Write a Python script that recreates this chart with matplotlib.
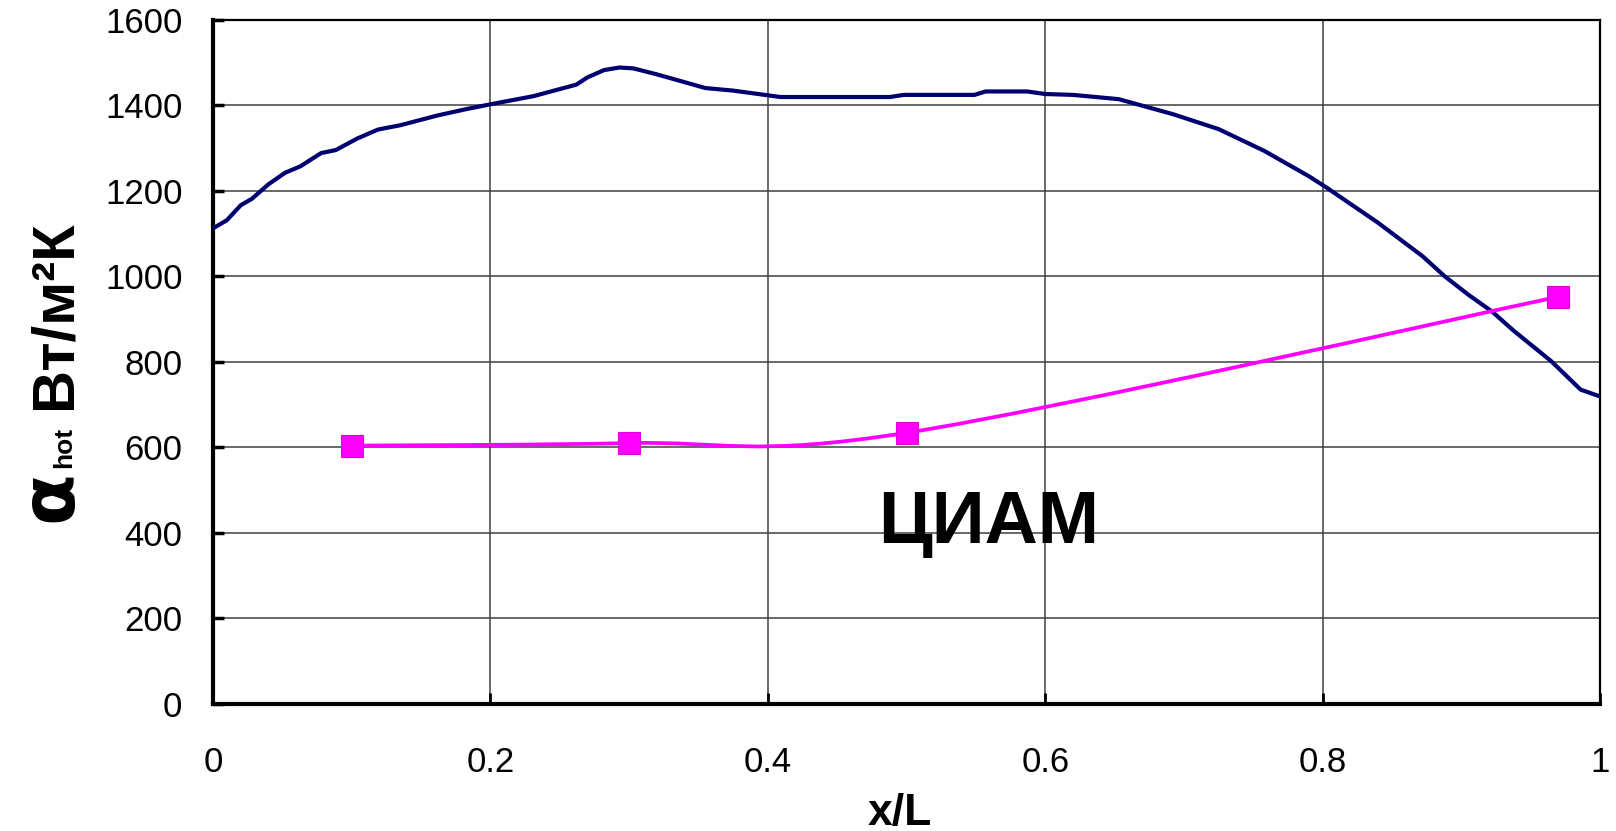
import numpy as np
import matplotlib
matplotlib.use('Agg')
import matplotlib.pyplot as plt
from matplotlib.path import Path
from matplotlib.patches import PathPatch

W, H = 1616, 831

# blue curve: alpha_hot along x/L
x_blue = [0.0, 0.01, 0.02, 0.028, 0.04, 0.052, 0.063, 0.078, 0.0885, 0.104,
          0.119, 0.135, 0.162, 0.183, 0.2, 0.231, 0.262, 0.27, 0.282, 0.293,
          0.303, 0.32, 0.355, 0.375, 0.4, 0.409, 0.488, 0.498, 0.549, 0.557,
          0.587, 0.6, 0.62, 0.653, 0.692, 0.725, 0.758, 0.79, 0.803, 0.84,
          0.872, 0.888, 0.905, 0.922, 0.938, 0.965, 0.986, 1.0]
y_blue = [1112, 1131, 1166, 1181, 1215, 1242, 1257, 1288, 1295, 1322,
          1343, 1353, 1376, 1391, 1402, 1421, 1448, 1465, 1482, 1488,
          1486, 1472, 1440, 1434, 1423, 1419, 1419, 1424, 1424, 1432,
          1432, 1426, 1424, 1414, 1379, 1344, 1293, 1234, 1207, 1125,
          1047, 1000, 957, 918, 872, 801, 735, 719]

# magenta: CIAM points
x_ciam = [0.1, 0.3, 0.5, 0.97]
y_ciam = [604, 610, 634, 952]

y_ticks = [0, 200, 400, 600, 800, 1000, 1200, 1400, 1600]
x_ticks = [0, 0.2, 0.4, 0.6, 0.8, 1.0]
x_ticklabels = ['0', '0.2', '0.4', '0.6', '0.8', '1']


def smooth_path(xs, ys):
    # Excel-style smoothed line through the points (bezier segments)
    pts = np.column_stack([xs, ys]).astype(float)
    ext = np.vstack([pts[0], pts, pts[-1]])
    verts = [pts[0]]
    codes = [Path.MOVETO]
    for i in range(len(pts) - 1):
        p0, p1, p2, p3 = ext[i], ext[i + 1], ext[i + 2], ext[i + 3]
        c1 = p1 + (p2 - p0) / 6.0
        c2 = p2 - (p3 - p1) / 6.0
        verts += [c1, c2, p2]
        codes += [Path.CURVE4] * 3
    return Path(verts, codes)


fig = plt.figure(figsize=(W / 100, H / 100), dpi=100)
ax = fig.add_axes([213 / W, 1 - 704 / H, 1387 / W, 684.4 / H])

ax.set_xlim(0, 1)
ax.set_ylim(0, 1600)
ax.set_yticks(y_ticks)
ax.set_yticklabels([str(v) for v in y_ticks])
ax.set_xticks(x_ticks)
ax.set_xticklabels(x_ticklabels)

ax.grid(True, color='#404040', lw=1.1)
ax.set_axisbelow(True)

for s in ['left', 'bottom']:
    ax.spines[s].set_linewidth(3.0)
for s in ['top', 'right']:
    ax.spines[s].set_linewidth(1.6)

ax.tick_params(axis='y', direction='in', length=8, width=2.5, pad=22,
               labelsize=25, labelfontfamily='Liberation Sans')
ax.tick_params(axis='x', direction='in', length=8, width=2.0, pad=30,
               labelsize=25, labelfontfamily='Liberation Sans')

ax.plot(x_blue, y_blue, color='#000070', lw=3.0, zorder=3,
        solid_joinstyle='round')

patch = PathPatch(smooth_path(x_ciam, y_ciam), facecolor='none',
                  edgecolor='#FF00FF', lw=2.7, zorder=4)
ax.add_patch(patch)
ax.plot(x_ciam, y_ciam, ls='none', marker='s', ms=16, color='#FF00FF',
        mec='#E000E0', mew=0.8, zorder=5)

ax.text(0.4795, 376, 'ЦИАМ', ha='left', va='baseline', fontsize=53,
        fontweight='bold', family='Liberation Sans', zorder=6)

# axis titles
fig.text(900 / W, 1 - 825 / H, 'x/L', ha='center', va='baseline',
         fontsize=32, fontweight='bold', family='Liberation Sans')

fig.text(71 / W, 1 - 522 / H, 'α', rotation=90, rotation_mode='anchor',
         ha='left', va='baseline', fontsize=54, fontweight='bold',
         family='DejaVu Sans')
fig.text(71 / W, 1 - 468 / H, 'hot', rotation=90, rotation_mode='anchor',
         ha='left', va='baseline', fontsize=19, fontweight='bold',
         family='Liberation Sans')
fig.text(70 / W, 1 - 409 / H, 'Вт/м²К', rotation=90,
         rotation_mode='anchor', ha='left', va='baseline', fontsize=43,
         fontweight='bold', family='Liberation Sans')

fig.savefig('out.png', dpi=100)
